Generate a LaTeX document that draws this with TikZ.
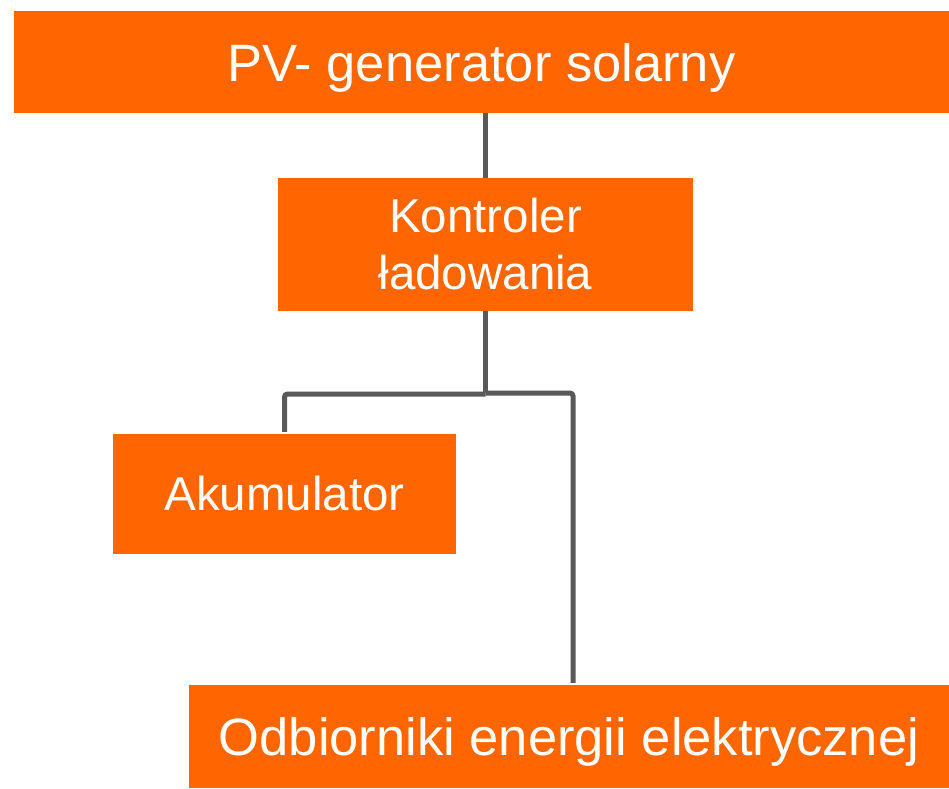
\documentclass[tikz,border=0pt]{standalone}
\usepackage{fontspec}
\setmainfont{Liberation Sans}
\usepackage{tikz}
\usetikzlibrary{positioning}
\usepackage{xcolor}
\definecolor{solarorange}{RGB}{255,102,0}
\definecolor{wiregray}{RGB}{89,89,89}

\begin{document}
\begin{tikzpicture}[x=1pt,y=-1pt,
          box/.style={fill=solarorange,text=white,inner sep=0pt,
            align=center},
          bigbox/.style={box,font=\fontsize{52.5}{63}\selectfont,
            text depth=0pt},
          midbox/.style={box,font=\fontsize{47.5}{57}\selectfont},
          wire/.style={wiregray,line width=5pt,rounded corners=3pt}]

        \useasboundingbox (0,0) rectangle (949,788);

        \node[bigbox,minimum width=935pt,minimum height=102pt] (pv)
          at (481.5,62) {PV- generator solarny};
        \node[midbox,minimum width=415pt,minimum height=133pt] (ctrl)
          at (485.5,244.5) {Kontroler\\ładowania};
        \node[midbox,minimum width=343pt,minimum height=120pt] (akku)
          at (284.5,494) {Akumulator};
        \node[bigbox,minimum width=760pt,minimum height=103pt] (load)
          at (569,736.5) {Odbiorniki energii elektrycznej};

        \coordinate (split) at (485.5,393);
        \coordinate (loadin) at ([xshift=4pt]load.north);

        \draw[wire] (pv.south -| ctrl.north) -- (ctrl.north);
        \draw[wire] (ctrl.south) -- (split);
        \draw[wire] ([yshift=-1pt]split) -| ([yshift=2pt]akku.north);
        \draw[wire] (split) -| ([yshift=2pt]loadin);

      \end{tikzpicture}
\end{document}
